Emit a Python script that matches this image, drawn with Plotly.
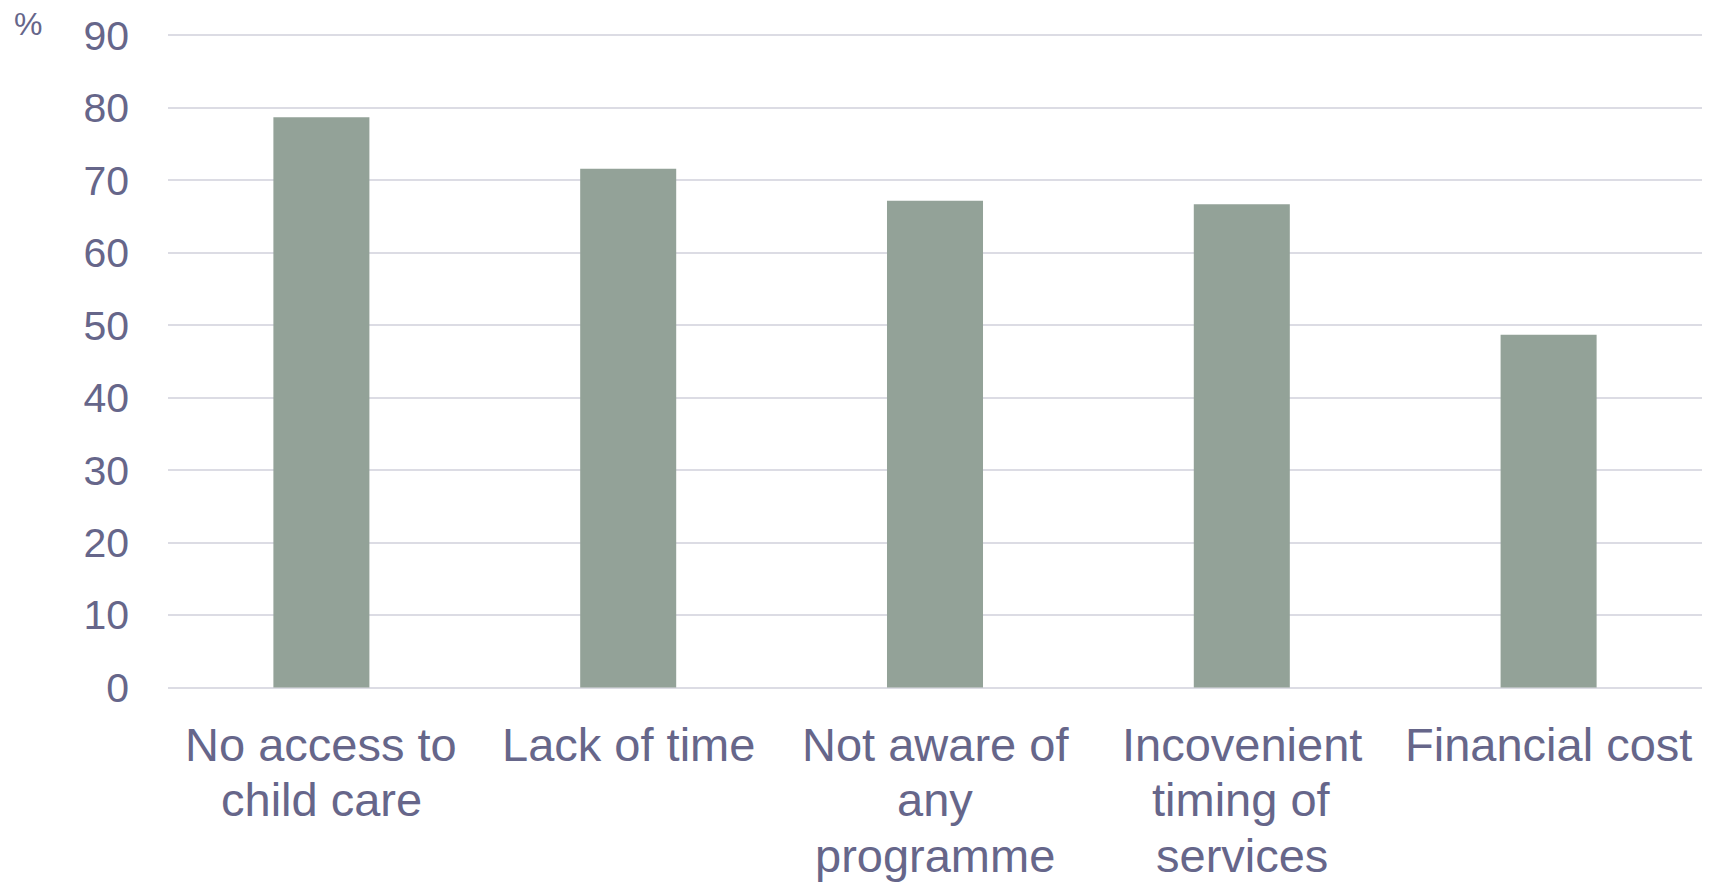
import plotly.graph_objects as go

# Reasons for not taking part, share of respondents (%)
categories = [
    "No access to\nchild care",
    "Lack of time",
    "Not aware of\nany\nprogramme",
    "Incovenient\ntiming of\nservices",
    "Financial cost",
]
values = [78.7, 71.6, 67.2, 66.7, 48.7]
y_ticks = [0, 10, 20, 30, 40, 50, 60, 70, 80, 90]

TEXT = "#66668a"
BAR = "#93a298"
GRID = "#dcdce4"
FONT = "Liberation Sans, Arial, sans-serif"

positions = list(range(len(categories)))

fig = go.Figure(
    go.Bar(
        x=positions,
        y=values,
        marker=dict(color=BAR, line=dict(width=0)),
        hoverinfo="skip",
    )
)

# Category labels, one annotation per text line for tight line spacing
LINE_STEP = 55.7
annotations = []
for pos, label in zip(positions, categories):
    for i, line in enumerate(label.split("\n")):
        annotations.append(
            dict(
                x=pos, xref="x", y=0, yref="y",
                text=line, showarrow=False,
                xanchor="center", yanchor="top",
                yshift=-28 - i * LINE_STEP,
                font=dict(family=FONT, size=47, color=TEXT),
            )
        )

# Unit label at the top left
annotations.append(
    dict(
        x=0, xref="paper", y=1, yref="paper",
        text="%", showarrow=False,
        xanchor="left", yanchor="middle",
        xshift=-156, yshift=10,
        font=dict(family=FONT, size=32, color=TEXT),
    )
)

# small padding on the value range so the 0 and 90 gridlines are drawn
PAD = 0.2

fig.update_layout(
    width=1717,
    height=882,
    margin=dict(l=168, r=15, t=33.5, b=192.5, pad=0),
    paper_bgcolor="white",
    plot_bgcolor="white",
    bargap=0.687,
    showlegend=False,
    font=dict(family=FONT, color=TEXT),
    annotations=annotations,
    xaxis=dict(
        range=[-0.5, len(categories) - 0.5],
        showticklabels=False,
        showgrid=False,
        zeroline=False,
        showline=False,
        ticks="",
        fixedrange=True,
    ),
    yaxis=dict(
        range=[-PAD, 90 + PAD],
        tickvals=y_ticks,
        ticktext=[str(v) for v in y_ticks],
        showgrid=True,
        gridcolor=GRID,
        gridwidth=2,
        zeroline=False,
        showline=False,
        ticks="",
        ticklabelstandoff=38,
        tickfont=dict(family=FONT, size=41, color=TEXT),
        fixedrange=True,
    ),
)

fig.write_html("out.html", config={"displayModeBar": False})
